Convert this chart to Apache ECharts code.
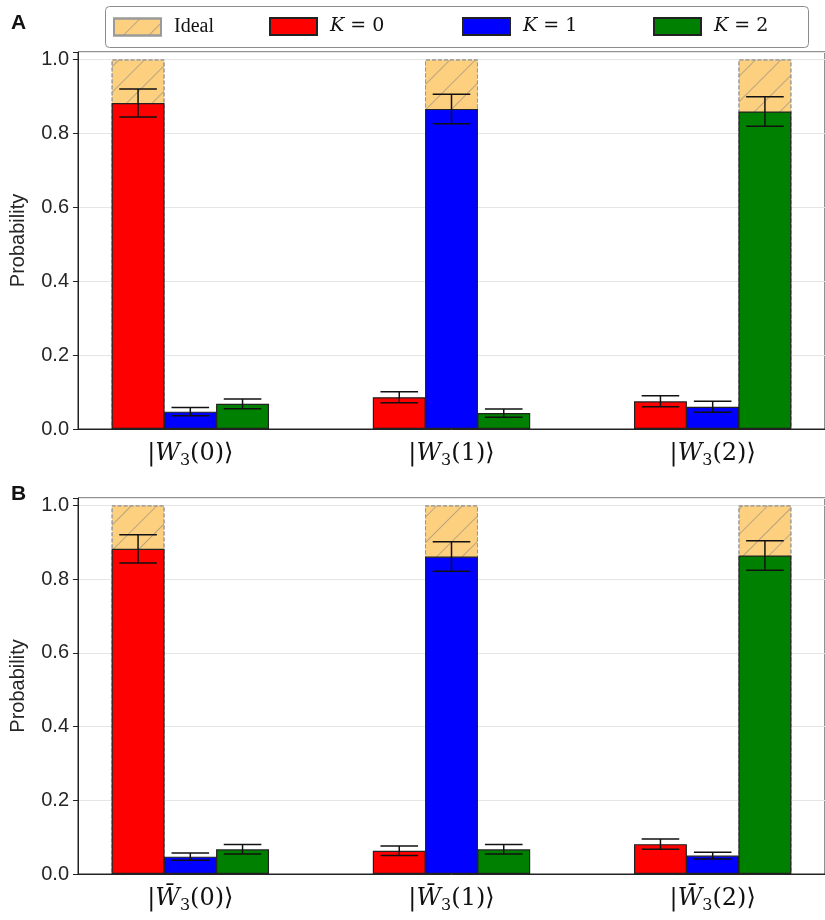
<!DOCTYPE html>
<html>
<head>
<meta charset="utf-8">
<script src="https://cdn.jsdelivr.net/npm/echarts@6/dist/echarts.min.js"></script>
<style>html,body{margin:0;padding:0;background:#fff;}#c{width:825px;height:920px;}</style>
</head>
<body>
<div id="c"></div>
<script>
// ---- data ----
const states = ['0', '1', '2'];
const seriesNames = ['Ideal', 'K = 0', 'K = 1', 'K = 2'];
const idealA = [1, 1, 1];
const idealB = [1, 1, 1];
const idealBarIdx = [0, 1, 2];          // which K bar the ideal bar sits behind
const k0A = [0.882, 0.086, 0.075];
const k0ErrA = [0.038, 0.015, 0.015];
const k1A = [0.047, 0.866, 0.060];
const k1ErrA = [0.011, 0.040, 0.015];
const k2A = [0.068, 0.043, 0.859];
const k2ErrA = [0.013, 0.011, 0.040];
const k0B = [0.882, 0.063, 0.081];
const k0ErrB = [0.038, 0.013, 0.014];
const k1B = [0.047, 0.861, 0.050];
const k1ErrB = [0.010, 0.040, 0.009];
const k2B = [0.067, 0.067, 0.864];
const k2ErrB = [0.013, 0.013, 0.040];

// ---- layout ----
const xMin = -0.43, xMax = 2.43;
const gridLeft = 77, gridW = 757;
const unitBar = 0.2;
const barPx = unitBar * gridW / (xMax - xMin);
const colors = ['#ff0000', '#0000ff', '#008000'];

function pos(g, k) { return g + (k - 1) * unitBar; }
function barData(vals, k) { return vals.map((v, g) => [pos(g, k), v]); }
function errData(vals, errs, k) { return vals.map((v, g) => [pos(g, k), v, errs[g]]); }
function idealData(vals) { return vals.map((v, g) => [pos(g, idealBarIdx[g]), v]); }

const decal = {
  symbol: 'rect', symbolSize: 1, color: 'rgba(130,130,130,0.55)',
  dashArrayX: [1, 0], dashArrayY: [1, 17], rotation: -Math.PI / 4
};

function errRender(params, api) {
  const x = api.value(0), y = api.value(1), e = api.value(2);
  const t = api.coord([x, y + e]);
  const b = api.coord([x, y - e]);
  const hw = api.size([0.072, 0])[0];
  const st = { stroke: '#111', lineWidth: 1.5 };
  return {
    type: 'group', children: [
      { type: 'line', shape: { x1: t[0], y1: t[1], x2: b[0], y2: b[1] }, style: st },
      { type: 'line', shape: { x1: t[0] - hw, y1: t[1], x2: t[0] + hw, y2: t[1] }, style: st },
      { type: 'line', shape: { x1: b[0] - hw, y1: b[1], x2: b[0] + hw, y2: b[1] }, style: st }
    ]
  };
}

function panelSeries(idx, ideal, ks, errs) {
  const s = [];
  s.push({
    name: 'Ideal', type: 'bar', xAxisIndex: idx, yAxisIndex: idx,
    data: idealData(ideal), barWidth: barPx, barGap: '-100%', z: 1,
    itemStyle: { color: '#fdd07f', borderColor: '#9a9a9a', borderType: 'dashed', borderWidth: 1, decal: decal },
    silent: true
  });
  ks.forEach((vals, k) => {
    s.push({
      name: seriesNames[k + 1], type: 'bar', xAxisIndex: idx, yAxisIndex: idx,
      data: barData(vals, k), barWidth: barPx, barGap: '-100%', z: 2,
      itemStyle: { color: colors[k], borderColor: '#222', borderWidth: 1.2 },
      silent: true
    });
  });
  ks.forEach((vals, k) => {
    s.push({
      name: 'err' + idx + k, type: 'custom', xAxisIndex: idx, yAxisIndex: idx,
      data: errData(vals, errs[k], k), renderItem: errRender, z: 3,
      encode: { x: 0, y: 1 }, silent: true
    });
  });
  return s;
}

function xLabel(bar) {
  return function (v) {
    const i = Math.round(v);
    return '{n||}{i|' + (bar ? 'W\u0304' : 'W') + '}{s|3}{n|(' + states[i] + ')\u27E9}';
  };
}
const labelRich = {
  n: { fontFamily: 'DejaVu Serif', fontSize: 24, color: '#111', lineHeight: 30 },
  i: { fontFamily: 'DejaVu Serif', fontStyle: 'italic', fontSize: 24, color: '#111', lineHeight: 30 },
  s: { fontFamily: 'DejaVu Serif', fontSize: 16, color: '#111', lineHeight: 16, verticalAlign: 'bottom' }
};

function xAxis(idx, bar) {
  return {
    type: 'value', gridIndex: idx, min: xMin, max: xMax,
    axisLine: { show: true, onZero: false, lineStyle: { color: '#222', width: 1 } },
    axisTick: { show: false },
    splitLine: { show: false },
    axisLabel: {
      customValues: [0, 1, 2], margin: 10,
      formatter: xLabel(bar), rich: labelRich
    }
  };
}
function yAxis(idx) {
  return {
    type: 'value', gridIndex: idx, min: 0, max: 1.02, interval: 0.2,
    name: 'Probability', nameLocation: 'middle', nameGap: 50, nameRotate: 90,
    nameTextStyle: { fontFamily: 'Liberation Sans', fontSize: 20, color: '#262626' },
    axisLine: { show: true, onZero: false, lineStyle: { color: '#222', width: 1 } },
    axisTick: { show: true, length: 5, lineStyle: { color: '#222' } },
    splitLine: { show: true, lineStyle: { color: '#e6e6e6', width: 1 } },
    axisLabel: {
      fontFamily: 'Liberation Sans', fontSize: 20, color: '#262626', margin: 9,
      formatter: v => (v > 1.001 ? '' : v.toFixed(1))
    }
  };
}

const legendRich = {
  i: { fontFamily: 'DejaVu Serif', fontStyle: 'italic', fontSize: 19, color: '#111' },
  n: { fontFamily: 'DejaVu Serif', fontSize: 19, color: '#111' }
};
function legend(name, left) {
  return {
    data: [name], left: left, top: 17, itemWidth: 47, itemHeight: 17, padding: 0,
    selectedMode: false, icon: 'rect',
    formatter: function (nm) {
      if (nm === 'Ideal') return '{t|Ideal}';
      return '{i|K}{n|' + nm.slice(1) + '}';
    },
    textStyle: {
      padding: [0, 0, 0, 8],
      rich: Object.assign({ t: { fontFamily: 'Liberation Serif', fontSize: 20, color: '#111' } }, legendRich)
    }
  };
}

const chart = echarts.init(document.getElementById('c'), null, { renderer: 'canvas' });
chart.setOption({
  animation: false,
  backgroundColor: '#fff',
  title: [
    { text: 'A', left: 11, top: 13, padding: 0, textStyle: { fontFamily: 'Liberation Sans', fontSize: 21, fontWeight: 'bold', color: '#111' } },
    { text: 'B', left: 11, top: 484, padding: 0, textStyle: { fontFamily: 'Liberation Sans', fontSize: 21, fontWeight: 'bold', color: '#111' } }
  ],
  graphic: [{
    type: 'rect', z: 0, shape: { x: 105.5, y: 6.5, width: 703, height: 41, r: 4 },
    style: { fill: '#fff', stroke: '#8c8c8c', lineWidth: 1 }
  }],
  legend: [legend('Ideal', 113), legend('K = 0', 269), legend('K = 1', 462), legend('K = 2', 653)],
  grid: [
    { left: gridLeft, top: 52, width: gridW, height: 377, show: true, borderColor: '#222', borderWidth: 1, backgroundColor: 'transparent' },
    { left: gridLeft, top: 498, width: gridW, height: 376, show: true, borderColor: '#222', borderWidth: 1, backgroundColor: 'transparent' }
  ],
  xAxis: [xAxis(0, false), xAxis(1, true)],
  yAxis: [yAxis(0), yAxis(1)],
  series: [].concat(
    panelSeries(0, idealA, [k0A, k1A, k2A], [k0ErrA, k1ErrA, k2ErrA]),
    panelSeries(1, idealB, [k0B, k1B, k2B], [k0ErrB, k1ErrB, k2ErrB])
  )
});
</script>
</body>
</html>
